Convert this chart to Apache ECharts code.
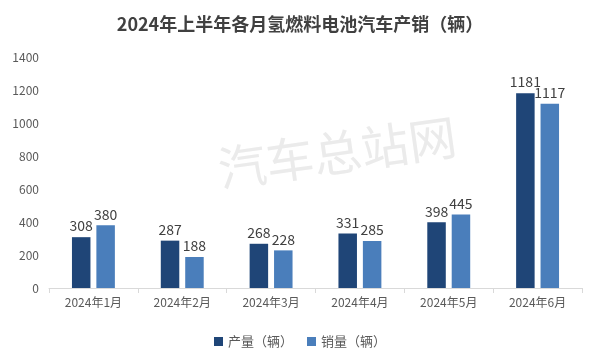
<!DOCTYPE html>
<html><head><meta charset="utf-8">
<script src="https://cdn.jsdelivr.net/npm/echarts@6/dist/echarts.min.js"></script>
<style>html,body{margin:0;padding:0;background:#fff}#c{width:600px;height:362px}</style>
</head><body><div id="c"></div>
<script>
var categories = ['2024年1月','2024年2月','2024年3月','2024年4月','2024年5月','2024年6月'];
var production = [308, 287, 268, 331, 398, 1181];
var sales = [380, 188, 228, 285, 445, 1117];
var seriesNames = ['产量（辆）','销量（辆）'];
var titleText = '2024年上半年各月氢燃料电池汽车产销（辆）';
var watermark = '汽车总站网';

var chart = echarts.init(document.getElementById('c'));
var font = '"Noto Sans CJK SC", "Noto Sans", sans-serif';
chart.setOption({
  backgroundColor: '#fff',
  animation: false,
  title: {text: titleText, left: 'center', top: 10,
    textStyle: {fontSize: 18, fontWeight: 'bold', color: '#404040', fontFamily: font}},
  graphic: [{type: 'text', left: 215, top: 112, rotation: 0.14, z: 0,
    style: {text: watermark, fontSize: 48, fill: '#ebebeb', fontFamily: font}}],
  legend: {bottom: 9, left: 'center', itemWidth: 9, itemHeight: 9, itemGap: 14,
    icon: 'rect', textStyle: {fontSize: 13, color: '#595959', fontFamily: font}},
  grid: {left: 49, right: 18, top: 57, bottom: 74},
  xAxis: {type: 'category', data: categories,
    axisLine: {lineStyle: {color: '#d9d9d9'}},
    axisTick: {show: true, length: 5, lineStyle: {color: '#d9d9d9'}},
    axisLabel: {fontSize: 12, color: '#595959', margin: 8, fontFamily: font}},
  yAxis: {type: 'value', min: 0, max: 1400, interval: 200,
    splitLine: {show: false}, axisLine: {show: false},
    axisLabel: {fontSize: 12, color: '#595959', margin: 10, fontFamily: font,
      formatter: function (v) { return String(v); }}},
  series: [
    {name: seriesNames[0], type: 'bar', data: production, barWidth: 18.5, barGap: '32%',
     itemStyle: {color: '#1f4577'},
     label: {show: true, position: 'top', fontSize: 14, color: '#404040', distance: 4, fontFamily: font}},
    {name: seriesNames[1], type: 'bar', data: sales, barWidth: 18.5,
     itemStyle: {color: '#4a7ebb'},
     label: {show: true, position: 'top', fontSize: 14, color: '#404040', distance: 4, fontFamily: font}}
  ]
});
</script></body></html>
